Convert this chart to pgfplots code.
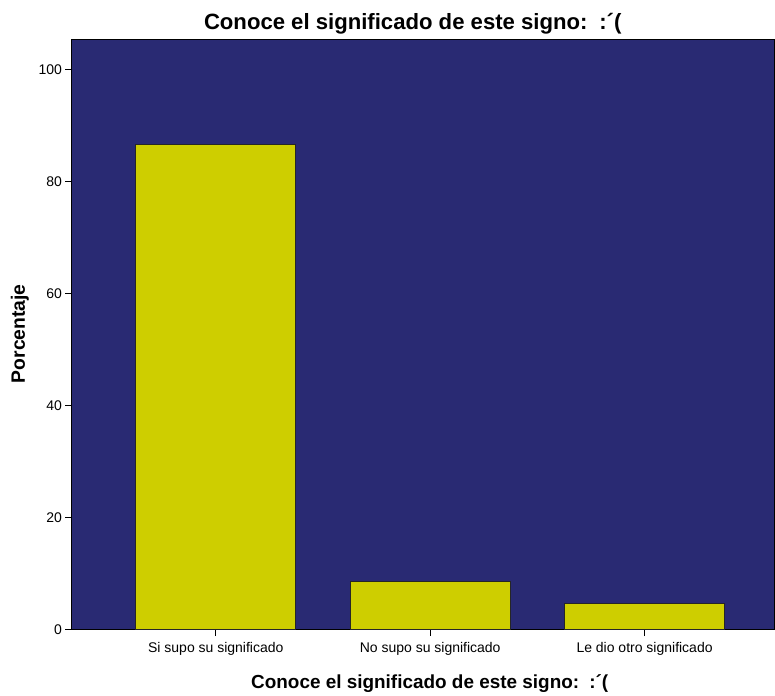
\documentclass[border=0pt]{standalone}
\usepackage{pgfplots}
\pgfplotsset{compat=1.18}
\usepackage{fontspec}
\setmainfont{Liberation Sans}
\definecolor{bgnavy}{RGB}{41,42,115}
\definecolor{baryellow}{RGB}{206,206,0}
\begin{document}
\begin{tikzpicture}
\begin{axis}[
  at={(0pt,0pt)}, anchor=south west,
  scale only axis, width=527.25pt, height=442.5pt,
  xmin=-0.671, xmax=2.606, ymin=0, ymax=105.3,
  axis background/.style={fill=bgnavy},
  axis line style={black, line width=0.8pt},
  xtick={0,1,2},
  xticklabels={Si supo su significado, No supo su significado, Le dio otro significado},
  ytick={0,20,40,60,80,100},
  tick pos=left, tick align=outside,
  major tick length=5pt,
  tick style={black, line width=0.8pt},
  ticklabel style={font=\fontsize{10.5}{12}\selectfont},
  xticklabel style={yshift=-1pt},
  yticklabel style={xshift=1pt},
  /pgf/number format/assume math mode=true,
  clip=false,
]
\addplot[ybar, bar width=0.746, fill=baryellow, draw=black!85, line width=0.8pt] coordinates {(0,86.7) (1,8.6) (2,4.7)};
\end{axis}
\path[use as bounding box] (-54pt,-49.5pt) rectangle (527.25pt,472.5pt);
\node[font=\bfseries\fontsize{16.6}{19}\selectfont] at (255.75pt,455pt) {Conoce el significado de este signo: \,:´(};
\node[font=\bfseries\fontsize{14.2}{16}\selectfont] at (268.5pt,-40.5pt) {Conoce el significado de este signo: \,:´(};
\node[font=\bfseries\fontsize{14.5}{16}\selectfont, rotate=90] at (-39pt,222pt) {Porcentaje};
\end{tikzpicture}
\end{document}
